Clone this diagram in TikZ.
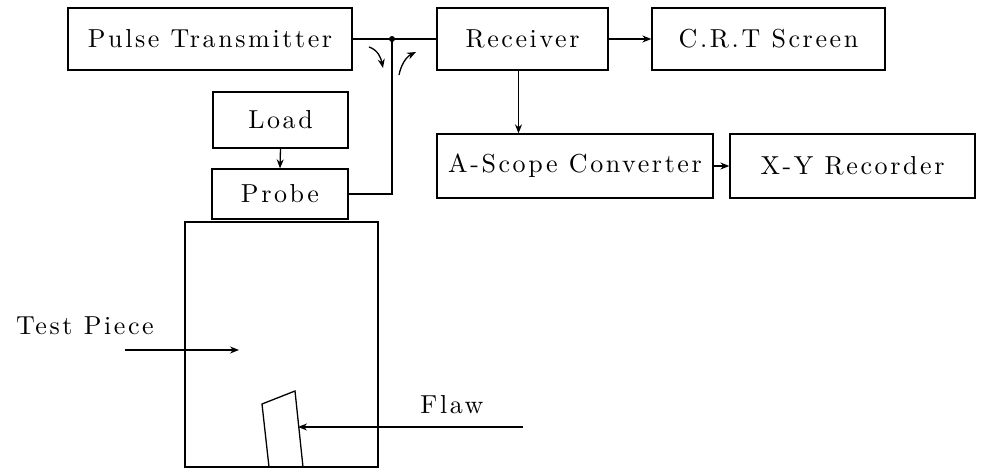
\documentclass[tikz,border=0pt]{standalone}
\usepackage{fontspec}
\usetikzlibrary{arrows.meta}
\newfontfamily\lblfont{lmroman10-regular}[Extension=.otf, LetterSpace=10]

\tikzset{
  lbl/.style={font={\lblfont\fontsize{26}{29}\selectfont}},
  blk/.style={draw, line width=1.3pt, inner sep=0pt, lbl},
  wire/.style={line width=1.3pt},
  arr/.style={wire, -{Stealth[length=9pt,width=7pt]}}
}

\begin{document}
\begin{tikzpicture}[x=1pt,y=-1pt]
\useasboundingbox (0,0) rectangle (1006,471);

% Top row
\node[blk, minimum width=284pt, minimum height=62pt] (pulse) at (210,39) {Pulse Transmitter};
\node[blk, minimum width=171pt, minimum height=62pt] (receiver) at (522.5,39) {Receiver};
\node[blk, minimum width=233pt, minimum height=62pt] (crt) at (768.5,39) {C.R.T Screen};

% Second row
\node[blk, minimum width=276pt, minimum height=64pt] (ascope) at (575,166) {A-Scope Converter};
\node[blk, minimum width=245pt, minimum height=64pt] (xyrec) at (852.5,166) {X-Y Recorder};

% Load and probe
\node[blk, minimum width=135pt, minimum height=56pt] (load) at (280.5,120) {Load};
\node[blk, minimum width=136pt, minimum height=50pt] (probe) at (280,194) {Probe};

% Junction
\coordinate (junc) at (392,39);
\fill (junc) circle (3pt);

% Connections
\draw[wire] (pulse.east) -- (junc) -- (receiver.west);
\draw[wire] (probe.east) -| (junc);
\draw[arr] (receiver.east) -- (crt.west);
\draw[arr] (ascope.east) -- (xyrec.west);
\draw[arr] (load.south) -- (probe.north);
\draw[arr] ([xshift=-4pt]receiver.south) -- ([xshift=-4pt]receiver.south |- ascope.north);

% Pulse direction
\draw[arr] (369,47) .. controls (378,50) and (381,58) .. (383,68);
\draw[arr] (399,75) .. controls (401,65) and (406,57) .. (416,52);

% Test piece
\draw[wire] (185,222) -- (378,222) -- (378,467) -- (185,467) -- cycle;
\node[lbl] (piece) at (85,326) {Test Piece};
\coordinate (pieceA) at (125,350);
\coordinate (pieceB) at (239,350);
\draw[arr] (pieceA) -- (pieceB);

% Flaw
\draw[wire] (269,467) -- (262,404) -- (295,391) -- (303,467);
\node[lbl] (flaw) at (452,405) {Flaw};
\coordinate (flawA) at (523,427);
\coordinate (flawB) at (298,427);
\draw[arr] (flawA) -- (flawB);

\end{tikzpicture}
\end{document}
